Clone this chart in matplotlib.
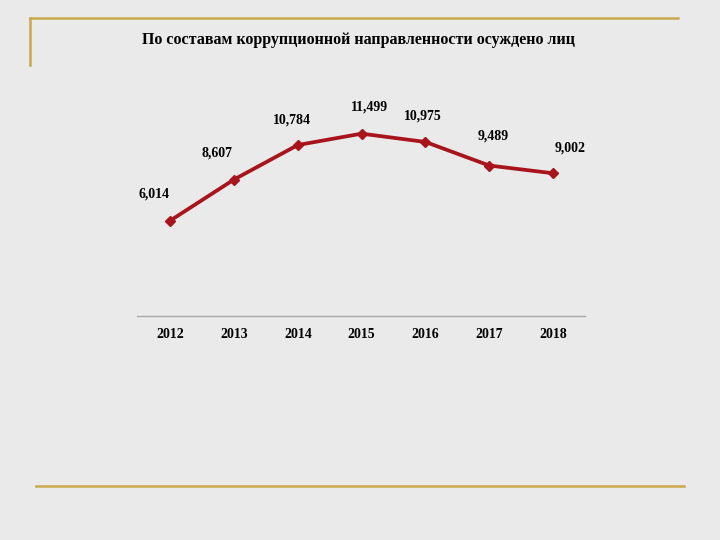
import matplotlib.pyplot as plt
from matplotlib.lines import Line2D

years = ['2012', '2013', '2014', '2015', '2016', '2017', '2018']
convicted = [6014, 8607, 10784, 11499, 10975, 9489, 9002]
value_labels = ['6,014', '8,607', '10,784', '11,499', '10,975', '9,489', '9,002']
# label offsets in points (dx, dy) relative to each marker
label_dx = [-12, -12, -4, 6, -2, 3, 12]
label_dy = [19, 19, 18, 19, 19, 21, 18]

title = 'По составам коррупционной направленности осуждено лиц'

bg = '#EAEAEA'
gold = '#C9A84C'
red = '#A8141C'

plt.rcParams['font.family'] = ['Liberation Serif', 'DejaVu Serif']

fig = plt.figure(figsize=(7.2, 5.4), dpi=100, facecolor=bg)

# decorative slide frame lines
fig.add_artist(Line2D([30/720, 678/720], [1 - 18/540, 1 - 18/540], color=gold, lw=1.8))
fig.add_artist(Line2D([30/720, 30/720], [1 - 18/540, 1 - 65/540], color=gold, lw=1.8))
fig.add_artist(Line2D([36/720, 684/720], [1 - 486/540, 1 - 486/540], color=gold, lw=1.8))

fig.text(358/720, 1 - 40/540, title, ha='center', va='center',
         fontsize=11.5, fontweight='bold', color='black')

ax = fig.add_axes([137/720, 1 - 316/540, 448/720, 222/540])
ax.set_facecolor(bg)
x = range(len(years))
ax.plot(x, convicted, color=red, lw=2.7, marker='D', markersize=5.5,
        markerfacecolor=red, markeredgecolor=red)

for i, v in enumerate(convicted):
    ax.annotate(value_labels[i], (i, v), xytext=(label_dx[i], label_dy[i]),
                textcoords='offset points', ha='center', va='center',
                fontsize=10, fontweight='bold', color='black')

ax.set_xlim(-0.52, 6.5)
ax.set_ylim(0, 14000)
ax.set_xticks(list(x))
ax.set_xticklabels(years, fontsize=10, fontweight='bold')
ax.tick_params(axis='x', length=0, pad=9)
ax.set_yticks([])
for s in ['top', 'left', 'right']:
    ax.spines[s].set_visible(False)
ax.spines['bottom'].set_color('#A8A8A8')
ax.spines['bottom'].set_linewidth(1)

fig.savefig('out.png', dpi=100, facecolor=bg)
